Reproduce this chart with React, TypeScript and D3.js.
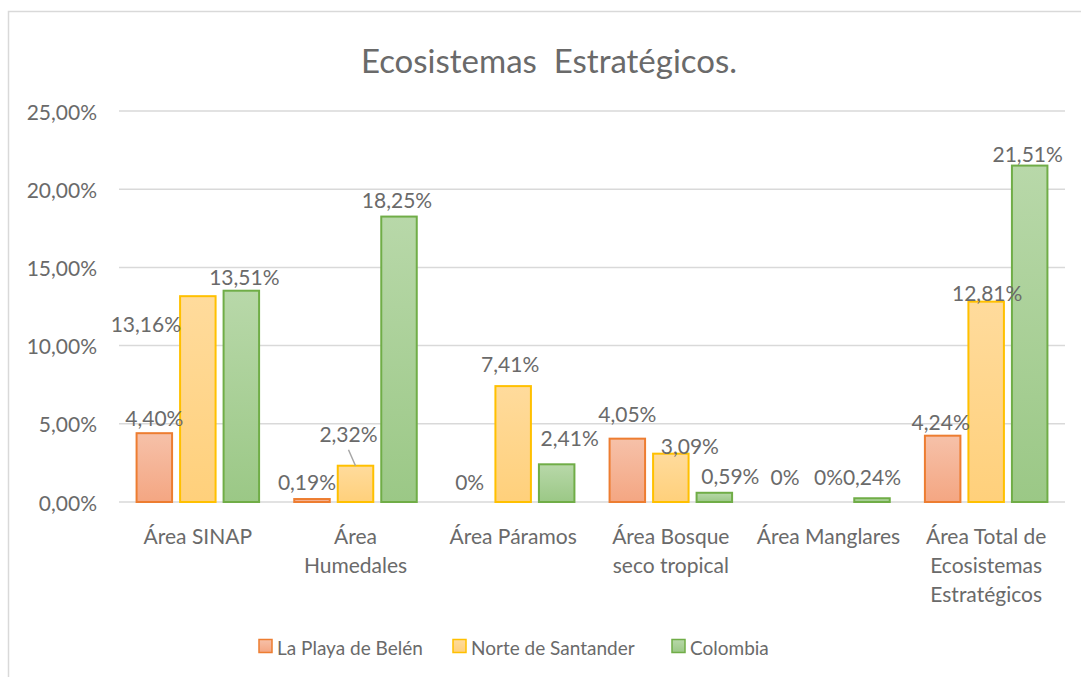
import React from "react";
import * as d3 from "d3";

const categories: string[][] = [
  ["Área SINAP"],
  ["Área", "Humedales"],
  ["Área Páramos"],
  ["Área Bosque", "seco tropical"],
  ["Área Manglares"],
  ["Área Total de", "Ecosistemas", "Estratégicos"],
];
const seriesNames = ["La Playa de Belén", "Norte de Santander", "Colombia"];
const playaBelen = [4.4, 0.19, 0, 4.05, 0, 4.24];
const norteSantander = [13.16, 2.32, 7.41, 3.09, 0, 12.81];
const colombia = [13.51, 18.25, 2.41, 0.59, 0.24, 21.51];
const labelsPlaya = ["4,40%", "0,19%", "0%", "4,05%", "0%", "4,24%"];
const labelsNorte = ["13,16%", "2,32%", "7,41%", "3,09%", "0%", "12,81%"];
const labelsColombia = ["13,51%", "18,25%", "2,41%", "0,59%", "0,24%", "21,51%"];
const yTicks = [0, 5, 10, 15, 20, 25];
const yTickLabels = ["0,00%", "5,00%", "10,00%", "15,00%", "20,00%", "25,00%"];

const seriesValues = [playaBelen, norteSantander, colombia];
const seriesLabels = [labelsPlaya, labelsNorte, labelsColombia];

// styling
const strokes = ["#ED7D31", "#FFC000", "#70AD47"];
const gradTop = ["#F6C1A9", "#FFDB9C", "#B8D8A9"];
const gradBot = ["#F4A682", "#FFD07B", "#9BC886"];
// manual label offsets [dx, dy] per series, per category
const labelOffsets: number[][][] = [
  [[0, -2], [-5, -4], [0, -7], [0, -11], [0, -12], [-2, 0]],
  [[-52, 41], [-7, -18], [-3, -9], [19, 6], [0, -12], [1, 5]],
  [[3, 0], [-2, -3], [13, -13], [16, -3], [0, -8], [-2, 2]],
];

const FONT = "Lato, 'Open Sans', sans-serif";
const TEXT = "#6A6A6A";

export default function App() {
  const W = 1081;
  const H = 677;
  const left = 119;
  const right = 1065;
  const yZero = 502;
  const yTop = 111;

  const x0 = d3
    .scaleBand<number>()
    .domain(categories.map((_, i) => i))
    .range([left, right])
    .paddingInner(0)
    .paddingOuter(0);
  const x1 = d3
    .scaleBand<number>()
    .domain([0, 1, 2])
    .range([0, x0.bandwidth()])
    .paddingInner(0.184)
    .paddingOuter(0.404);
  const y = d3.scaleLinear().domain([0, 25]).range([yZero, yTop]);

  return (
    <svg
      width={W}
      height={H}
      style={{ position: "absolute", left: 0, top: 0, background: "#fff" }}
      fontFamily={FONT}
    >
      <defs>
        {strokes.map((_, s) => (
          <linearGradient key={s} id={`g${s}`} x1="0" y1="0" x2="0" y2="1">
            <stop offset="0" stopColor={gradTop[s]} />
            <stop offset="1" stopColor={gradBot[s]} />
          </linearGradient>
        ))}
      </defs>
      <rect x={8.5} y={11.5} width={1200} height={800} fill="#fff" stroke="#D9D9D9" strokeWidth={1.5} />
      <text x={549} y={60} textAnchor="middle" dominantBaseline="central" fontSize={33} fill={TEXT}>
        Ecosistemas{"\u00A0\u00A0"}Estratégicos.
      </text>
      {yTicks.map((t, i) => (
        <g key={t}>
          <line x1={left} x2={right} y1={y(t)} y2={y(t)} stroke="#D9D9D9" strokeWidth={1.5} />
          <text x={97} y={y(t)} textAnchor="end" dominantBaseline="central" fontSize={21} fill={TEXT}>
            {yTickLabels[i]}
          </text>
        </g>
      ))}
      {seriesValues.map((vals, s) => (
        <g key={s}>
          {vals.map((v, c) => {
            const bx = (x0(c) as number) + (x1(s) as number);
            const bw = x1.bandwidth();
            const top = y(v);
            return (
              <rect
                key={c}
                x={bx}
                y={top}
                width={bw}
                height={Math.max(0, yZero - top)}
                fill={`url(#g${s})`}
                stroke={v > 0 ? strokes[s] : "none"}
                strokeWidth={2}
              />
            );
          })}
        </g>
      ))}
      {seriesValues.map((vals, s) => (
        <g key={`l${s}`}>
          {vals.map((v, c) => {
            const cx = (x0(c) as number) + (x1(s) as number) + x1.bandwidth() / 2;
            const [dx, dy] = labelOffsets[s][c];
            return (
              <text
                key={c}
                x={cx + dx}
                y={y(v) - 14 + dy}
                textAnchor="middle"
                dominantBaseline="central"
                fontSize={21}
                fill={TEXT}
              >
                {seriesLabels[s][c]}
              </text>
            );
          })}
        </g>
      ))}
      {(() => {
        const s = 1;
        const c = 1;
        const cx = (x0(c) as number) + (x1(s) as number) + x1.bandwidth() / 2;
        return <line x1={cx - 7} y1={y(norteSantander[c]) - 16} x2={cx} y2={y(norteSantander[c])} stroke="#A6A6A6" strokeWidth={1.5} />;
      })()}
      {categories.map((lines, c) => {
        const cx = (x0(c) as number) + x0.bandwidth() / 2;
        return (
          <text key={c} x={cx} textAnchor="middle" fontSize={21} fill={TEXT}>
            {lines.map((ln, k) => (
              <tspan key={k} x={cx} y={535 + k * 29} dominantBaseline="central">
                {ln}
              </tspan>
            ))}
          </text>
        );
      })}
      {seriesNames.map((n, s) => {
        const lx = [259, 453, 672][s];
        return (
          <g key={n}>
            <rect x={lx} y={639.5} width={13} height={13} fill={`url(#g${s})`} stroke={strokes[s]} strokeWidth={1.5} />
            <text x={lx + 18} y={647} dominantBaseline="central" fontSize={19} fill={TEXT}>
              {n}
            </text>
          </g>
        );
      })}
    </svg>
  );
}
